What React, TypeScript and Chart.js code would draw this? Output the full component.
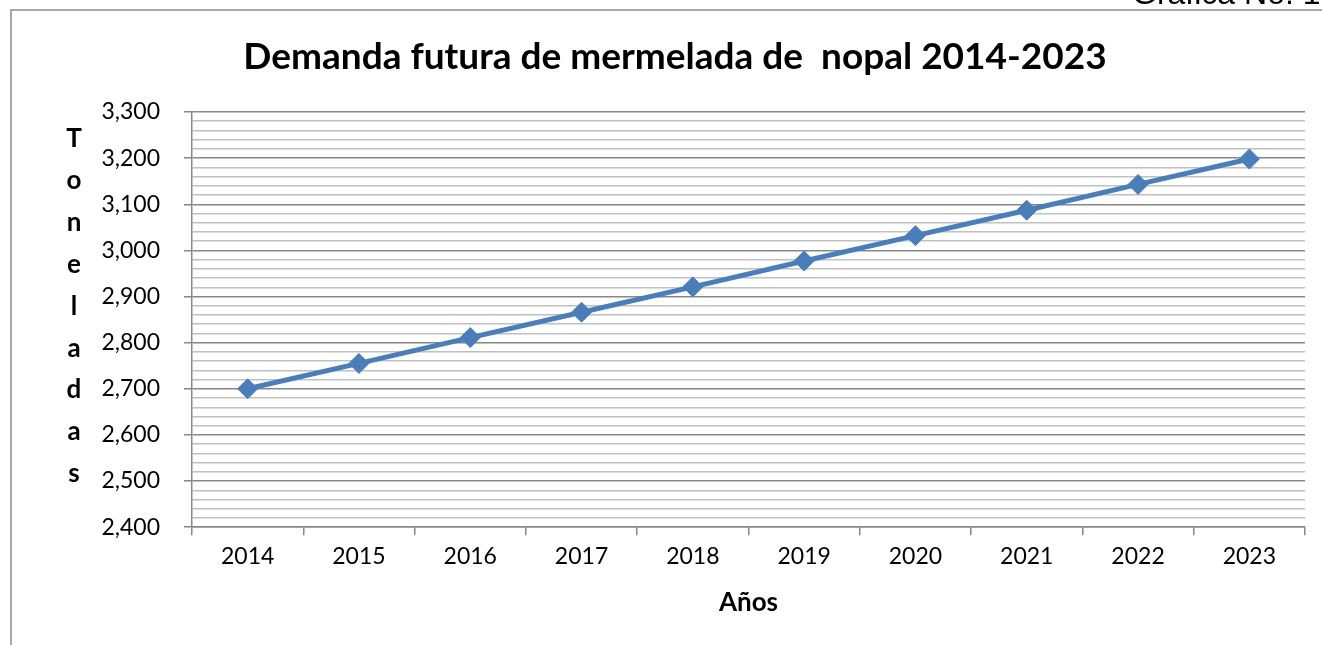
import React, { useEffect, useRef } from "react";
import { Chart, registerables } from "chart.js";

Chart.register(...registerables);

const years: string[] = ["2014", "2015", "2016", "2017", "2018", "2019", "2020", "2021", "2022", "2023"];
const demanda: number[] = [2700, 2755, 2811, 2866, 2921, 2977, 3032, 3087, 3143, 3198];
const titleText = "Demanda futura de mermelada de  nopal 2014-2023";
const xTitle = "Años";
const yTitleLetters: string[] = ["T", "o", "n", "e", "l", "a", "d", "a", "s"];
const captionText = "Gráfica No. 1";

const FONT = "Lato, 'Open Sans', sans-serif";
const TITLE_SIZE = 37;
const TICK_SIZE = 23;
const AXIS_TITLE_SIZE = 26;

const decorPlugin = {
  id: "decor",
  beforeDraw(chart: any) {
    const ctx = chart.ctx;
    ctx.save();
    ctx.fillStyle = "#ffffff";
    ctx.fillRect(0, 0, chart.width, chart.height);
    ctx.strokeStyle = "#8c8c8c";
    ctx.lineWidth = 1.5;
    ctx.beginPath();
    ctx.moveTo(11, chart.height);
    ctx.lineTo(11, 10);
    ctx.lineTo(chart.width, 10);
    ctx.stroke();
    ctx.fillStyle = "#000";
    ctx.font = "32px 'Liberation Sans', Arial, sans-serif";
    ctx.textAlign = "left";
    ctx.textBaseline = "alphabetic";
    ctx.fillText(captionText, 1132, 4);
    ctx.restore();
  },
  afterDraw(chart: any) {
    const ctx = chart.ctx;
    ctx.save();
    ctx.fillStyle = "#000";
    ctx.font = "bold 26px " + FONT;
    ctx.textAlign = "center";
    ctx.textBaseline = "alphabetic";
    yTitleLetters.forEach((ch, i) => {
      ctx.fillText(ch, 74, 147 + i * 41.9);
    });
    ctx.restore();
  },
};

export default function App() {
  const ref = useRef<HTMLCanvasElement | null>(null);
  useEffect(() => {
    if (!ref.current) return;
    const lh = TITLE_SIZE * 1.2;
    const chart = new Chart(ref.current, {
      type: "line",
      data: {
        labels: years,
        datasets: [
          {
            label: "Demanda",
            data: demanda,
            borderColor: "#4a7ebb",
            backgroundColor: "#4a7ebb",
            borderWidth: 5,
            pointStyle: "rectRot",
            pointRadius: 10,
            pointBorderWidth: 1,
            pointBackgroundColor: "#4a7ebb",
            pointBorderColor: "#4a7ebb",
            tension: 0,
          },
        ],
      },
      options: {
        responsive: false,
        animation: false,
        devicePixelRatio: 1,
        layout: { padding: { left: 45, right: 17, top: 0, bottom: 22 } },
        plugins: {
          legend: { display: false },
          tooltip: { enabled: false },
          title: {
            display: true,
            text: titleText,
            color: "#000",
            font: { family: FONT, size: TITLE_SIZE, weight: "bold" },
            padding: { top: 57 - lh / 2, bottom: 112 - 57 - lh / 2 },
          },
        },
        scales: {
          x: {
            offset: true,
            grid: {
              offset: true,
              drawOnChartArea: false,
              drawTicks: true,
              tickLength: 8,
              color: "#878787",
              lineWidth: 1.5,
            },
            border: { color: "#878787", width: 1.5 },
            ticks: {
              color: "#000",
              font: { family: FONT, size: TICK_SIZE },
              padding: 8,
              maxRotation: 0,
            },
            title: {
              display: true,
              text: xTitle,
              color: "#000",
              font: { family: FONT, size: AXIS_TITLE_SIZE, weight: "bold" },
              padding: { top: 8.6, bottom: 4.4 },
            },
          },
          y: {
            min: 2400,
            max: 3300,
            afterFit: (scale: any) => {
              scale.width = 147;
            },
            ticks: {
              stepSize: 20,
              autoSkip: false,
              color: "#000",
              font: { family: FONT, size: TICK_SIZE },
              padding: 24,
              callback: (v: any) => (Number(v) % 100 === 0 ? Number(v).toLocaleString("en-US") : ""),
            },
            grid: {
              tickLength: 8,
              color: (c: any) => (c.tick && c.tick.value % 100 === 0 ? "#878787" : "#c0c0c0"),
              tickColor: (c: any) => (c.tick && c.tick.value % 100 === 0 ? "#878787" : "rgba(0,0,0,0)"),
              lineWidth: 1.5,
            },
            border: { color: "#878787", width: 1.5 },
          },
        },
      },
      plugins: [decorPlugin],
    } as any);
    return () => chart.destroy();
  }, []);
  return (
    <div style={{ position: "absolute", left: 0, top: 0, width: 1322, height: 645, background: "#fff" }}>
      <canvas ref={ref} width={1322} height={645} style={{ display: "block" }} />
    </div>
  );
}
